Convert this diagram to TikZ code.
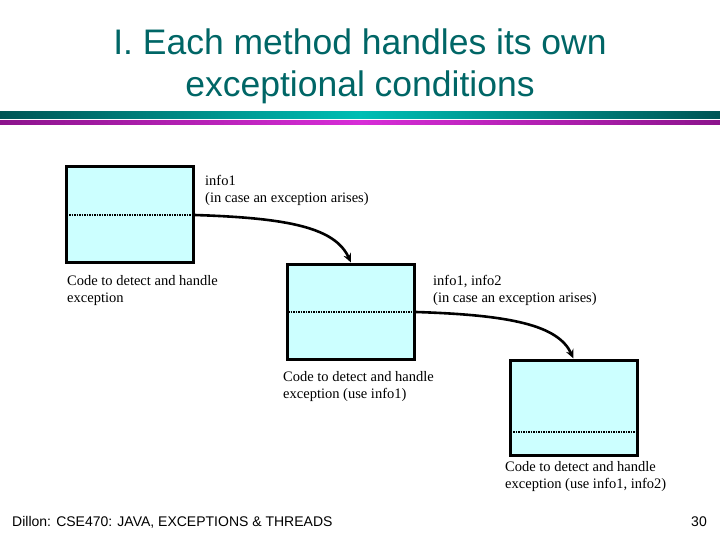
\documentclass[tikz,border=0pt]{standalone}
\usepackage{fontspec}
\setmainfont{Liberation Serif}
\setsansfont{Liberation Sans}
\usetikzlibrary{arrows.meta}
\definecolor{titlecol}{RGB}{0,102,102}
\definecolor{tealdark}{RGB}{0,85,85}
\definecolor{tealbright}{RGB}{0,190,180}
\definecolor{magdark}{RGB}{140,20,140}
\definecolor{magbright}{RGB}{215,45,215}
\definecolor{boxfill}{RGB}{204,255,255}
\tikzset{
  methodbox/.style={draw=black, line width=3pt, fill=boxfill, minimum width=127pt, minimum height=95pt, inner sep=0pt},
  sepline/.style={line width=2pt, dash pattern=on 1.5pt off 1pt},
  flow/.style={line width=2.6pt, -{Stealth[length=9pt,width=8pt]}},
  note/.style={font=\fontsize{14.5}{17}\selectfont, align=left, anchor=north west, inner sep=0pt},
  titletxt/.style={font=\sffamily\fontsize{35.5}{42}\selectfont, text=titlecol, align=center, inner sep=0pt},
  foot/.style={font=\sffamily\fontsize{14}{16}\selectfont, inner sep=0pt}
}
\begin{document}
\begin{tikzpicture}[x=1pt,y=-1pt]
\useasboundingbox (0,0) rectangle (720,540);
% title
\node[titletxt] (title) at (360,66.5) {I. Each method handles its own\\exceptional conditions};
% bars
\shade[left color=tealdark, right color=tealdark, middle color=tealbright] (0,112) rectangle (720,118.5);
\shade[left color=magdark, right color=magdark, middle color=magbright] (0,121) rectangle (720,125);
% boxes
\node[methodbox] (b1) at (129.5,214.5) {};
\node[methodbox] (b2) at (351,311.5) {};
\node[methodbox] (b3) at (573.5,407.5) {};
% dotted separators
\coordinate (s1w) at ([xshift=2pt]b1.west |- 0,215);
\coordinate (s1e) at (b1.east |- 0,215);
\coordinate (s2w) at ([xshift=2pt]b2.west |- 0,312);
\coordinate (s2e) at (b2.east |- 0,312);
\coordinate (s3w) at ([xshift=2pt]b3.west |- 0,432);
\coordinate (s3e) at ([xshift=-1pt]b3.east |- 0,432);
\draw[sepline] (s1w) -- ([xshift=-1pt]s1e);
\draw[sepline] (s2w) -- ([xshift=-1pt]s2e);
\draw[sepline] (s3w) -- (s3e);
% connectors
\draw[flow] (s1e) .. controls (290,218) and (335,228) .. (b2.north);
\draw[flow] (s2e) .. controls (510,315) and (558,325) .. (b3.north);
% labels
\node[note] (l1) at (205,175) {info1\\(in case an exception arises)};
\node[note] (l2) at (67,275) {Code to detect and handle\\exception};
\node[note] (l3) at (433,275) {info1, info2\\(in case an exception arises)};
\node[note] (l4) at (283,371) {Code to detect and handle\\exception (use info1)};
\node[note] (l5) at (505,461) {Code to detect and handle\\exception (use info1, info2)};
% footer
\node[foot, anchor=west] (ft) at (12,522) {Dillon: CSE470: JAVA, EXCEPTIONS \& THREADS};
\node[foot, anchor=east] (pg) at (707,522) {30};
\end{tikzpicture}
\end{document}
